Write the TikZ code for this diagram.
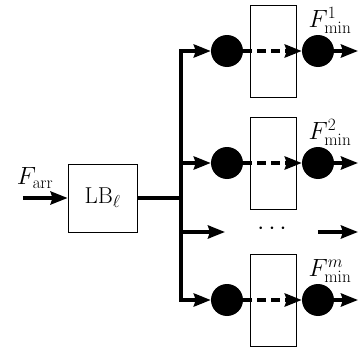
\documentclass[tikz,border=0pt]{standalone}
\usetikzlibrary{arrows.meta}
\usetikzlibrary{positioning}

\begin{document}
\begin{tikzpicture}[
        x=1pt, y=-1pt,
        font=\fontsize{23}{27}\selectfont,
        lbbox/.style={draw, line width=0.8pt, minimum width=69pt, minimum height=68pt, inner sep=0pt},
        stage/.style={draw, line width=0.8pt, minimum width=46pt, minimum height=92pt, inner sep=0pt},
        dot/.style={circle, fill=black, minimum size=32pt, inner sep=0pt},
        flow/.style={line width=3.6pt, line join=miter,
          -{Stealth[length=17pt, width=13pt, inset=2pt]}},
        dflow/.style={flow, dash pattern=on 9pt off 5pt},
        lbl/.style={inner sep=1pt},
      ]
      \useasboundingbox (0,0) rectangle (360,351);

      % load balancer
      \coordinate (in) at (23,198);
      \node[lbbox] (lb) at (102.5,198) {LB$_\ell$};
      \node[lbl] (farr) at (35,178) {$F_{\mathrm{arr}}$};
      \draw[flow] (in) -- (lb.west);

      % bus and branches
      \coordinate (b1) at (181,51);
      \coordinate (b2) at (181,163);
      \coordinate (b3) at (181,232);
      \coordinate (b4) at (181,300);
      \coordinate (bj) at (181,198);

      % === rows 1, 2 and m ===
      \foreach \r/\y/\s in {1/51/1, 2/163/2, 4/300/m} {
        \node[stage] (s\r) at (273,\y) {};
        \node[dot] (c\r) at (227,\y) {};
        \node[dot] (d\r) at (318,\y) {};
        \coordinate (e\r) at (358,\y);
        \draw[dflow] (c\r.east) -- (d\r.west);
        \draw[flow] (d\r.east) -- (e\r);
        \node[lbl, above=0pt of d\r, xshift=12pt] (f\r) {$F^{\s}_{\mathrm{min}}$};
      }

      \draw[line width=3.6pt] (lb.east) -- (bj);
      \draw[flow, {Stealth[length=17pt, width=13pt, inset=2pt]}-{Stealth[length=17pt, width=13pt, inset=2pt]}]
        (c1.west) -| (b4) -- (c4.west);
      \draw[flow] (b2) -- (c2.west);

      % row of dots
      \coordinate (g3) at (225,232);
      \node (dots) at (272,229) {$\cdots$};
      \coordinate (h3) at (318,232);
      \coordinate (e3) at (358,232);
      \draw[flow] (b3) -- (g3);
      \draw[flow] (h3) -- (e3);

      \end{tikzpicture}
\end{document}
